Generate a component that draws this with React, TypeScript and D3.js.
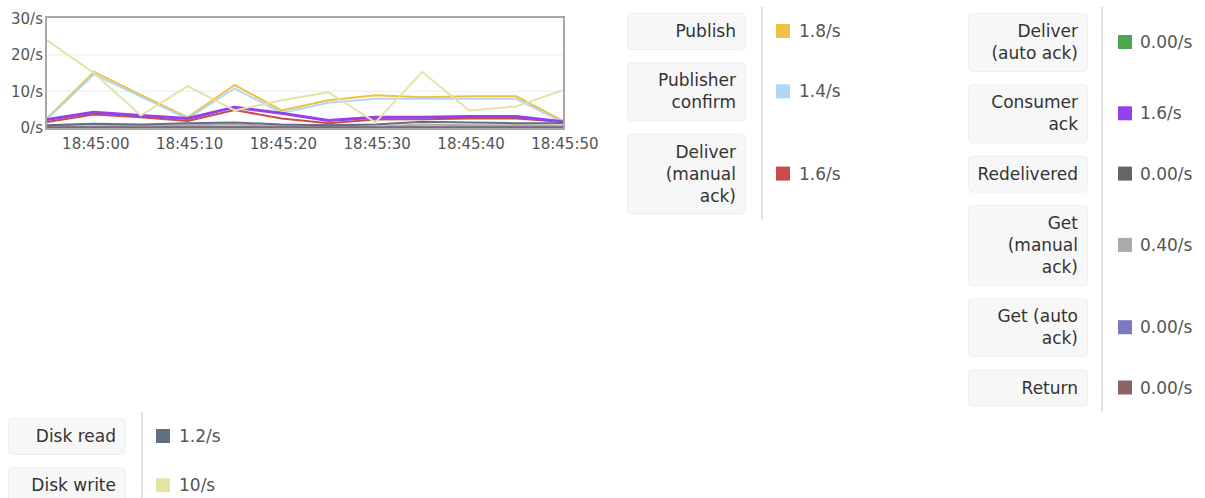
import React from "react";
import * as d3 from "d3";

// ---- data ----
// sample times, seconds relative to 18:45:00
const sampleOffsets = [-5.2, -0.2, 4.8, 9.8, 14.8, 19.8, 24.8, 29.8, 34.8, 39.8, 44.8, 49.8];
const xTickLabels = ["18:45:00", "18:45:10", "18:45:20", "18:45:30", "18:45:40", "18:45:50"];
const yTicks = [0, 10, 20, 30];

const publish = [2.5, 15.3, 9.0, 2.8, 11.7, 4.7, 7.5, 8.9, 8.3, 8.6, 8.6, 1.8];
const publisherConfirm = [2.3, 14.6, 8.5, 2.4, 10.8, 4.0, 6.8, 7.9, 7.9, 7.9, 7.9, 1.4];
const deliverManual = [1.5, 3.6, 2.8, 1.8, 4.8, 2.5, 1.2, 2.2, 2.3, 2.5, 2.5, 1.6];
const deliverAuto = [0, 0, 0, 0, 0, 0, 0, 0, 0, 0, 0, 0];
const consumerAck = [2.2, 4.2, 3.3, 2.5, 5.6, 3.9, 1.9, 2.8, 2.8, 3.0, 3.0, 1.6];
const redelivered = [0, 0, 0, 0, 0, 0, 0, 0, 0, 0, 0, 0];
const getManual = [0.6, 0.8, 0.4, 0.6, 0.8, 0.4, 0.6, 0.2, 0.8, 0.6, 0.6, 0.4];
const getAuto = [0, 0, 0, 0, 0, 0, 0, 0, 0, 0, 0, 0];
const returned = [0, 0, 0, 0, 0, 0, 0, 0, 0, 0, 0, 0];
const diskRead = [0.6, 1.0, 0.8, 1.2, 1.4, 0.8, 0.6, 0.8, 1.6, 1.4, 1.2, 1.2];
const diskWrite = [24.0, 15.0, 3.3, 11.4, 4.7, 7.5, 9.7, 1.4, 15.3, 4.7, 5.8, 10.3];

const seriesNames = [
  "Publish", "Publisher confirm", "Deliver (manual ack)", "Deliver (auto ack)",
  "Consumer ack", "Redelivered", "Get (manual ack)", "Get (auto ack)", "Return",
  "Disk read", "Disk write",
];
const seriesColors = [
  "#edc240", "#afd8f8", "#cb4b4b", "#4da74d", "#9440ed", "#666666",
  "#aaaaaa", "#7c79c3", "#8d6363", "#607080", "#e3e3a6",
];
const seriesValues = [
  publish, publisherConfirm, deliverManual, deliverAuto, consumerAck, redelivered,
  getManual, getAuto, returned, diskRead, diskWrite,
];
const legendRates = ["1.8/s", "1.4/s", "1.6/s", "0.00/s", "1.6/s", "0.00/s", "0.40/s", "0.00/s", "0.00/s", "1.2/s", "10/s"];
const legendLines = [
  ["Publish"], ["Publisher", "confirm"], ["Deliver", "(manual", "ack)"], ["Deliver", "(auto ack)"],
  ["Consumer", "ack"], ["Redelivered"], ["Get", "(manual", "ack)"], ["Get (auto", "ack)"], ["Return"],
  ["Disk read"], ["Disk write"],
];
const legendGroups = [[0, 1, 2], [3, 4, 5, 6, 7, 8], [9, 10]];

const FONT = "'DejaVu Sans', Verdana, sans-serif";

export default function App() {
  const W = 1205, H = 498;
  const plot = { left: 47, right: 563, top: 18, bottom: 128 };
  const base = new Date(2024, 0, 1, 18, 45, 0).getTime();
  const times = sampleOffsets.map((s) => new Date(base + s * 1000));
  const x = d3.scaleTime().domain([times[0], times[times.length - 1]]).range([plot.left, plot.right]);
  const y = d3.scaleLinear().domain([0, 30]).range([127.5, 18.5]);
  const parseT = (s: string) => {
    const [h, m, sec] = s.split(":").map(Number);
    return new Date(2024, 0, 1, h, m, sec);
  };
  const line = d3
    .line<number>()
    .x((_, i) => x(times[i]))
    .y((v) => y(v));

  // legend group layouts
  const groupPos = [
    { boxX: 627, boxW: 118, sepX: 762, sqX: 776, valX: 799, top: 13 },
    { boxX: 968, boxW: 119, sepX: 1102, sqX: 1118, valX: 1140, top: 13 },
    { boxX: 8, boxW: 117, sepX: 142, sqX: 156, valX: 179, top: 418 },
  ];
  const lineH = 22;
  const pad = 14;
  const gap = 13.3;

  const legendEls: React.ReactNode[] = [];
  legendGroups.forEach((grp, gi) => {
    const g = groupPos[gi];
    let top = g.top;
    let bottom = top;
    grp.forEach((si) => {
      const lines = legendLines[si];
      const h = lines.length * lineH + pad;
      const cy = top + h / 2;
      legendEls.push(
        <g key={`lg-${si}`}>
          <rect x={g.boxX + 0.5} y={top + 0.5} width={g.boxW} height={h} rx={4} fill="#f7f7f7" stroke="#efefef" />
          {lines.map((t, li) => (
            <text
              key={li}
              x={g.boxX + g.boxW - 9}
              y={top + pad / 2 + lineH * (li + 0.5)}
              dy="0.36em"
              textAnchor="end"
              fontSize={17}
              fill="#333"
              fontFamily={FONT}
            >
              {t}
            </text>
          ))}
          <rect x={g.sqX} y={cy - 7} width={14} height={14} fill={seriesColors[si]} />
          <text x={g.valX} y={cy} dy="0.36em" fontSize={17} fill="#555" fontFamily={FONT}>
            {legendRates[si]}
          </text>
        </g>
      );
      bottom = top + h;
      top = top + h + gap;
    });
    legendEls.push(
      <line
        key={`sep-${gi}`}
        x1={g.sepX}
        x2={g.sepX}
        y1={g.top - 6}
        y2={gi === 2 ? H : bottom + 6}
        stroke="#d8d8d8"
        strokeWidth={1.5}
      />
    );
  });

  return (
    <svg width={W} height={H} style={{ position: "absolute", left: 0, top: 0, background: "#fff" }}>
      <defs>
        <clipPath id="plotclip">
          <rect x={plot.left} y={plot.top} width={plot.right - plot.left} height={plot.bottom - plot.top + 1} />
        </clipPath>
      </defs>
      <rect x={plot.left} y={plot.top} width={plot.right - plot.left} height={plot.bottom - plot.top} fill="#fff" />
      {yTicks
        .filter((t) => t > 0 && t < 30)
        .map((t) => (
          <line key={`g${t}`} x1={plot.left} x2={plot.right} y1={y(t)} y2={y(t)} stroke="#ececec" strokeWidth={1} />
        ))}
      <g clipPath="url(#plotclip)">
        {seriesValues.map((vals, si) => (
          <path
            key={`s${si}`}
            d={line(vals) || ""}
            fill="none"
            stroke={seriesColors[si]}
            strokeWidth={si === 4 ? 3 : 2}
            strokeLinejoin="round"
          />
        ))}
      </g>
      <rect
        x={plot.left - 1}
        y={plot.top - 1}
        width={plot.right - plot.left + 2}
        height={plot.bottom - plot.top + 2}
        fill="none"
        stroke="#a8a8a8"
        strokeWidth={2}
      />
      {yTicks.map((t) => (
        <text key={`y${t}`} x={43} y={y(t)} dy="0.36em" textAnchor="end" fontSize={15} fill="#555" fontFamily={FONT}>
          {`${t}/s`}
        </text>
      ))}
      {xTickLabels.map((lbl) => (
        <text key={lbl} x={x(parseT(lbl))} y={144} dy="0.36em" textAnchor="middle" fontSize={15} fill="#555" fontFamily={FONT}>
          {lbl}
        </text>
      ))}
      {legendEls}
    </svg>
  );
}
